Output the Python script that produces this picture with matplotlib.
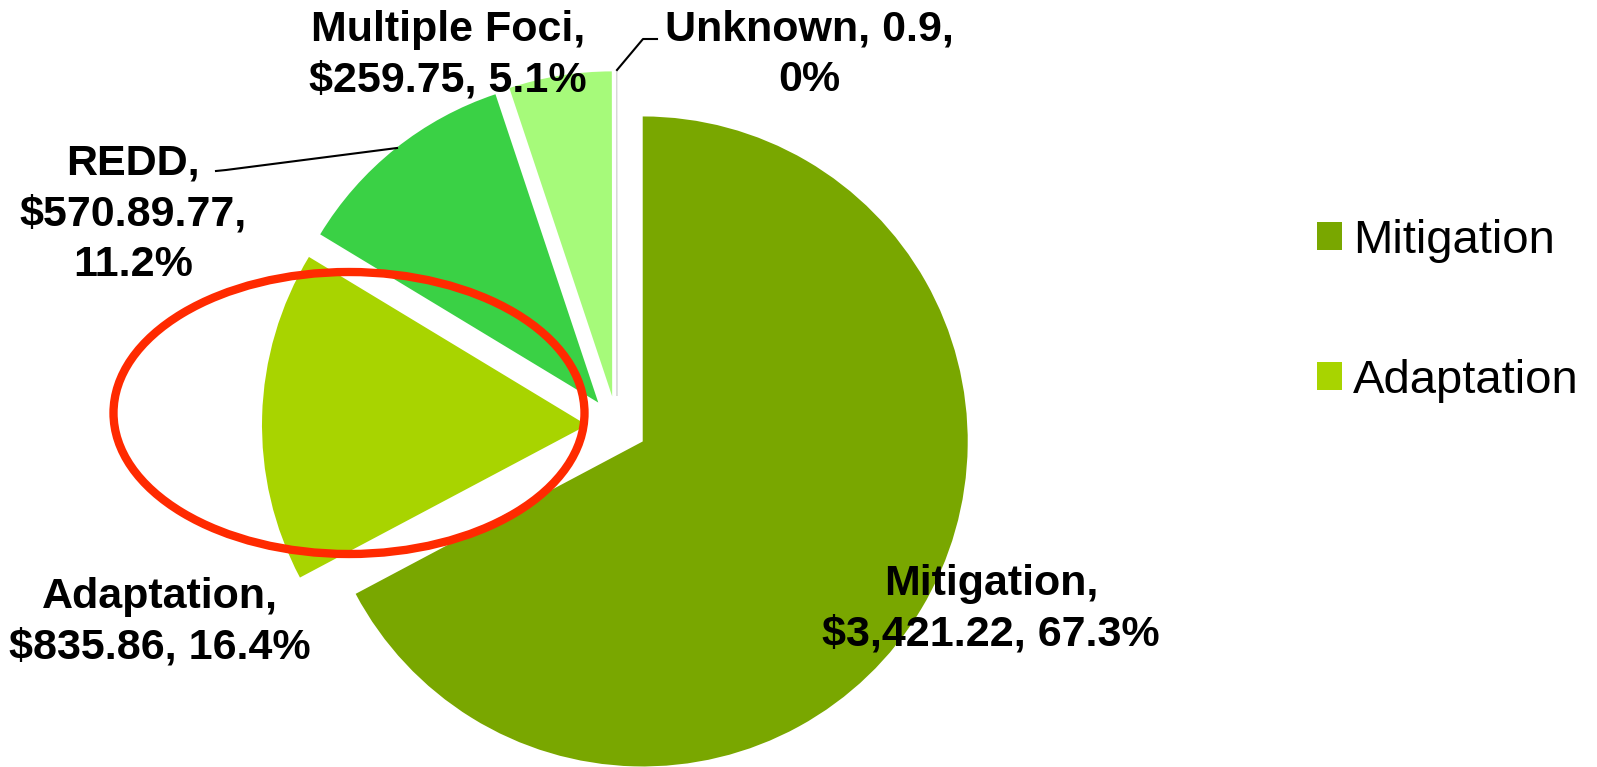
import matplotlib.pyplot as plt
from matplotlib.patches import Ellipse

# funding by focus (US$ millions)
categories = ["Mitigation", "Adaptation", "REDD", "Multiple Foci", "Unknown"]
values = [3421.22, 835.86, 570.89, 259.75, 0.9]
label_text = ["Mitigation,\n$3,421.22, 67.3%",
              "Adaptation,\n$835.86, 16.4%",
              "REDD,\n$570.89.77,\n11.2%",
              "Multiple Foci,\n$259.75, 5.1%",
              "Unknown, 0.9,\n0%"]
colors = ["#79A700", "#A8D400", "#3AD145", "#A6FA7A", "#EEF6EE"]

# layout, in pixel coords of the 1597x767 canvas (y down)
W, H = 1597, 767
center = (617, 426)
radius = 325
label_pos = [(991, 609), (160, 622), (133, 214), (448, 55), (809, 55)]

fig = plt.figure(figsize=(W / 100, H / 100), dpi=100)
ax = fig.add_axes([0, 0, 1, 1])

# y axis is flipped, so counterclock in data = clockwise on screen
wedges, _ = ax.pie(values, colors=colors, center=center, radius=radius,
                   startangle=-90, counterclock=True,
                   explode=[30] * len(values),
                   wedgeprops=dict(linewidth=0))
wedges[-1].set_edgecolor("#D8D8D8")
wedges[-1].set_linewidth(0.6)

ax.set_xlim(0, W)
ax.set_ylim(H, 0)
ax.set_aspect("equal")
ax.axis("off")

for txt, (x, y) in zip(label_text, label_pos):
    ax.text(x, y, txt, ha="center", va="center", fontsize=31,
            fontweight="bold", family=["Liberation Sans", "DejaVu Sans"],
            linespacing=1.34)

# leader lines
ax.plot([216, 226, 397], [171, 170, 148], color="black", lw=1.5)
ax.plot([617, 643, 657], [70, 39, 39], color="black", lw=1.5)

# red highlight around the adaptation slice
ax.add_patch(Ellipse((349, 413), 471, 282, fill=False,
                     edgecolor="#FF2A00", lw=6, zorder=5))

fig.legend(wedges[:2], categories[:2], loc="upper left",
           bbox_to_anchor=(1317 / W, 1 - 219 / H), frameon=False,
           prop=dict(family=["Liberation Sans", "DejaVu Sans"], size=34),
           handlelength=0.52, handleheight=0.52, handletextpad=0.25,
           labelspacing=2.03, borderpad=0, borderaxespad=0)

fig.savefig("out.png", dpi=100)
